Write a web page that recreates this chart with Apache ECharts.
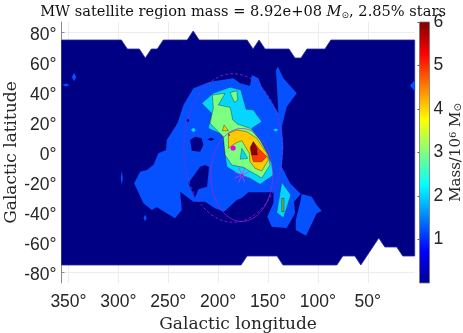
<!DOCTYPE html>
<html><head><meta charset="utf-8">
<style>html,body{margin:0;padding:0;background:#fff}#c{width:463px;height:333px}</style>
<script src="https://cdn.jsdelivr.net/npm/echarts@6/dist/echarts.min.js"></script>
</head><body><div id="c"></div>
<script>
var lonTicks=[50,100,150,200,250,300,350];
var latTicks=[-80,-60,-40,-20,0,20,40,60,80];
var colorTicks=[1,2,3,4,5,6];
var jetStops=['#00008f','#0000ff','#00ffff','#ffff00','#ff0000','#800000'];
var jetPos=[0,0.125,0.375,0.625,0.875,1];

var base=[[357,75],[297,75],[291,69],[279,69],[273,63],[267,69],[261,69],[255,75],[231,75],[225,81],[219,75],[171,75],[165,69],[159,75],[153,69],[129,69],[123,63],[117,63],[111,69],[93,69],[87,75],[3,75],[3,-69],[15,-69],[21,-63],[33,-63],[39,-57],[57,-75],[63,-69],[75,-69],[81,-75],[135,-75],[141,-69],[171,-69],[177,-75],[357,-75]];
var blueMain=[[284.2,-20.5],[278.2,-12.8],[271.5,-11.7],[264.9,-8.3],[259.9,-0.5],[252.2,1.7],[251.5,8.3],[240.8,19.5],[234.8,31.7],[224.8,42.8],[208.1,47.2],[184.7,49.5],[178,46.1],[168,44.3],[166.3,51.7],[159.7,49.5],[156.3,43.9],[149.7,37.2],[139.6,26.1],[142,55],[140,57.2],[134.6,49.5],[121.2,39.5],[131.2,30.5],[136.2,17.2],[134.6,3.9],[136.2,-9.5],[127.9,-20.5],[117.2,-27.7],[123.9,-32.8],[122.9,-40.5],[131.2,-50.3],[146.3,-49.5],[150.7,-42.8],[144.6,-33.7],[144.6,-26.1],[151.3,-26.5],[169.7,-26.5],[176.3,-30.3],[181.3,-31.7],[194,-39.5],[203.1,-37.2],[213.1,-32.8],[224.8,-32.8],[238.1,-26.1],[236.4,-38.3],[243.2,-43.9],[261.5,-36.5],[266.5,-38.3],[274.9,-33.9]];
var blueRight=[[116.2,-27.7],[106.2,-29.5],[101.2,-35],[96.2,-39],[101.2,-40.5],[111.9,-55.5],[122.2,-51.7],[122.2,-45],[117.9,-33.7]];
var blueEdge=[[7.7,44.5],[3,48.3],[3,41]];
var blueSpotA=[[344.4,53],[346.6,50.3],[344.4,47.5],[342.2,50.3]];
var blueSpotB=[[352.4,46],[356,45],[352.4,44],[348.8,45]];
var blueSpotC=[[296.6,-12],[297.6,-17],[296.6,-22],[295.6,-17]];
var blueSpotD=[[273.2,-41.5],[274.8,-43.7],[273.2,-46],[271.6,-43.7]];
var holeA=[[229.8,-20.5],[218.1,-9.5],[213.1,-8.3],[209.1,-9.7],[211.1,-22.8],[219.8,-24.5],[223.1,-30.3]];
var holeB=[[228.1,8.3],[223.1,10.5],[216.4,9.5],[214.8,5],[218.1,0.5],[226.4,1.2]];
var holeC=[[230.4,22.5],[232,21.2],[230.4,20],[228.8,21.2]];
var holeD=[[207.1,9.8],[211,8.8],[207.1,7.8],[203.2,8.8]];
var cyanMain=[[216.4,32.8],[204.8,39.5],[188,43.5],[177.3,41.7],[172,28.8],[164.7,28.3],[156.3,20.5],[166.3,16.1],[154.7,3.9],[146.3,-7.2],[144.6,-15],[158,-21.2],[168,-17.2],[180.7,-13.9],[191.3,-9.5],[193,-0.5],[194.8,11.7],[209.8,16.1],[206.4,26.1]];
var cyanRight=[[136.2,-19.9],[127.2,-28.3],[134.6,-43.5],[141.2,-40.1],[139.6,-33.9]];
var cyanDotA=[[224.8,16.5],[227.3,15],[224.8,13.5],[222.3,15]];
var cyanDotB=[[142.3,16],[144.8,15],[142.3,14],[139.8,15]];
var greenMain=[[205.8,38.3],[193,39.5],[199.8,31.7],[188,30.1],[185.3,21.7],[180.7,19],[168,16.1],[158,8.3],[149.7,-1.7],[148,-8.3],[156.3,-17],[161.3,-15],[174.7,-9.9],[186.3,-8.3],[193,-1.7],[194.8,10.5],[208.1,19.5],[204.8,29.7]];
var greenIsle=[[188,39.9],[181.3,41.2],[180.3,35],[183.7,33.5]];
var greenRight=[[136.2,-30.5],[134,-30.5],[134,-39.5],[136.2,-39.5]];
var yellowMain=[[189.7,12.8],[181.3,15],[171.3,13.9],[161.3,9.5],[151.3,-0.5],[149.7,-5],[156.3,-12.3],[163,-10.5],[168,-6.1],[168.7,-0.5],[176.3,7.9],[183,6.1],[189.7,2.8],[189.7,8.3]];
var yellowTri=[[194,18.3],[189.7,14.5],[195.7,14.5]];
var cyanTri=[[176.3,2.8],[170.3,-3.9],[178,-4.5]];
var redMain=[[164.7,7.2],[159.7,2.8],[151.3,-2.8],[156.3,-6.1],[164.7,-6.1],[168,2.8]];
var darkRed=[[164.7,7.2],[161.3,2.8],[160.7,-1.7],[166.3,-1.7],[167.3,3.9]];
var bigCircle=[185,3,49.5];
var smallCircle=[176.3,-15,31];

var C={base:'#000084',blue:'#0550ff',cyan:'#05d5ff',green:'#7dff80',yellow:'#ffc800',red:'#ff3c00',dark:'#8c0000'};
var line='rgba(10,10,10,0.6)';
function poly(pts,fill,stroke,w){
  return {type:'custom',coordinateSystem:'cartesian2d',xAxisIndex:0,yAxisIndex:0,silent:true,animation:false,z:3,
    data:pts,
    renderItem:function(p,api){
      if(p.dataIndex!==0)return null;
      return {type:'polygon',shape:{points:pts.map(function(q){return api.coord(q);})},
        style:{fill:fill,stroke:stroke||null,lineWidth:w||0}};
    }};
}
function circle(c,col,dash,w){
  return {type:'custom',coordinateSystem:'cartesian2d',xAxisIndex:0,yAxisIndex:0,silent:true,animation:false,z:4,
    data:[c],
    renderItem:function(p,api){
      var pts=[];
      for(var i=0;i<=120;i++){var t=i/120*2*Math.PI;pts.push(api.coord([c[0]+c[2]*Math.cos(t),c[1]+c[2]*Math.sin(t)]));}
      return {type:'polyline',shape:{points:pts},style:{fill:null,stroke:col,lineWidth:w,lineDash:dash}};
    }};
}
var series=[
  poly(base,C.base,'#2a2aa8',0.8),
  poly(blueMain,C.blue),poly(blueRight,C.blue),poly(blueEdge,C.blue),poly(blueSpotA,C.blue),poly(blueSpotB,C.blue),poly(blueSpotC,C.blue),poly(blueSpotD,C.blue),
  poly(holeA,C.base),poly(holeB,C.base),poly(holeC,C.base),poly(holeD,C.base),
  poly(cyanMain,C.cyan,line,0.4),poly(cyanRight,C.cyan,line,0.4),poly(cyanDotA,C.cyan),poly(cyanDotB,C.cyan),
  poly(greenMain,C.green,line,0.6),poly(greenIsle,C.green,line,0.6),poly(greenRight,'#6fb050',line,0.6),
  poly(yellowMain,C.yellow,line,0.6),poly(yellowTri,C.yellow,line,0.6),poly(cyanTri,C.cyan,line,0.5),
  poly(redMain,C.red,line,0.6),poly(darkRed,C.dark,line,0.5),
  circle(bigCircle,'#a020c8',[3,2],0.8),
  circle(smallCircle,'#b020d8',null,0.7),
  {type:'custom',coordinateSystem:'cartesian2d',xAxisIndex:0,yAxisIndex:0,silent:true,animation:false,z:5,
   data:[[bigCircle[0],bigCircle[1]]],
   renderItem:function(p,api){var c=api.coord([api.value(0),api.value(1)]);
     return {type:'circle',shape:{cx:c[0],cy:c[1],r:2.6},style:{fill:'#f000e0'}};}},
  {type:'custom',coordinateSystem:'cartesian2d',xAxisIndex:0,yAxisIndex:0,silent:true,animation:false,z:5,
   data:[[smallCircle[0],smallCircle[1]]],
   renderItem:function(p,api){var c=api.coord([api.value(0),api.value(1)]);var kids=[];
     for(var i=0;i<4;i++){var a=i*Math.PI/4+Math.PI/8,dx=8*Math.cos(a),dy=8*Math.sin(a);
       kids.push({type:'line',shape:{x1:c[0]-dx,y1:c[1]-dy,x2:c[0]+dx,y2:c[1]+dy},style:{stroke:'#c040e8',lineWidth:0.8}});}
     kids.push({type:'circle',shape:{cx:c[0],cy:c[1],r:1.2},style:{fill:'#a020d0'}});
     return {type:'group',children:kids};}},
  {type:'custom',coordinateSystem:'cartesian2d',xAxisIndex:0,yAxisIndex:0,silent:true,animation:false,z:5,
   data:[[189,11.7]],
   renderItem:function(p,api){var c=api.coord([api.value(0),api.value(1)]);
     return {type:'circle',shape:{cx:c[0],cy:c[1],r:0.7},style:{fill:'#201000'}};}},
  {type:'custom',coordinateSystem:'cartesian2d',xAxisIndex:1,yAxisIndex:1,silent:true,animation:false,z:3,
   data:[[0,0,6]],
   renderItem:function(p,api){
     var a=api.coord([0,api.value(2)]),b=api.coord([1,api.value(1)]);
     var stops=jetPos.map(function(v,i){return {offset:1-v,color:jetStops[i]};}).reverse();
     return {type:'rect',shape:{x:a[0],y:a[1],width:b[0]-a[0],height:b[1]-a[1]},
       style:{fill:new echarts.graphic.LinearGradient(0,0,0,1,stops),stroke:'#777',lineWidth:0.8}};
   }}
];
var sf='"DejaVu Serif",serif', hf='"Liberation Sans",sans-serif';
var chart=echarts.init(document.getElementById('c'),null,{renderer:'canvas'});
chart.setOption({
  animation:false,backgroundColor:'#fff',
  title:{text:'MW satellite region mass = 8.92e+08 {i|M}{s|⊙}, 2.85% stars',left:238,top:0,textAlign:'center',
    textStyle:{fontFamily:sf,fontSize:14.6,fontWeight:'normal',color:'#111',
      rich:{i:{fontFamily:sf,fontStyle:'italic',fontSize:14.6,color:'#111'},s:{fontFamily:'"DejaVu Sans"',fontSize:9,color:'#111',verticalAlign:'bottom',padding:[5,0,0,0]}}}},
  grid:[{left:61.5,top:22,width:353.2,height:261,outerBoundsMode:'none'},{left:419.5,top:22,width:10,height:261,outerBoundsMode:'none'}],
  xAxis:[
    {type:'value',gridIndex:0,min:3,max:357,inverse:true,
     name:'Galactic longitude',nameLocation:'middle',nameGap:31,nameTextStyle:{fontFamily:sf,fontSize:17,color:'#262626'},
     axisLine:{show:true,lineStyle:{color:'#8a8a8a',width:1}},
     axisTick:{show:true,inside:true,length:3,customValues:lonTicks,lineStyle:{color:'#8a8a8a'}},
     axisLabel:{customValues:lonTicks,formatter:'{value}°',fontFamily:hf,fontSize:17.5,color:'#262626',margin:10},
     splitLine:{show:true,lineStyle:{color:'#ececec',width:1}}},
    {type:'value',gridIndex:1,min:0,max:1,show:false}
  ],
  yAxis:[
    {type:'value',gridIndex:0,min:-87,max:87,
     name:'Galactic latitude',nameLocation:'middle',nameGap:41,nameMoveOverlap:false,nameTextStyle:{fontFamily:sf,fontSize:17,color:'#262626'},
     axisLine:{show:true,lineStyle:{color:'#8a8a8a',width:1}},
     axisTick:{show:true,inside:true,length:3,customValues:latTicks,lineStyle:{color:'#8a8a8a'}},
     axisLabel:{customValues:latTicks,formatter:'{value}°',fontFamily:hf,fontSize:17.5,color:'#262626',margin:5,verticalAlign:'top',lineHeight:6},
     splitLine:{show:true,lineStyle:{color:'#ececec',width:1}}},
    {type:'value',gridIndex:1,min:0,max:6,position:'right',
     name:'Mass/10{u|6} M{d|⊙}',nameLocation:'middle',nameGap:19,nameRotate:90,
     nameTextStyle:{fontFamily:sf,fontSize:15,color:'#262626',
       rich:{u:{fontFamily:sf,fontSize:10,color:'#262626',verticalAlign:'top'},d:{fontFamily:'"DejaVu Sans"',fontSize:10,color:'#262626',verticalAlign:'bottom'}}},
     axisLine:{show:false},
     axisTick:{show:true,inside:true,length:2,customValues:colorTicks,lineStyle:{color:'#555'}},
     axisLabel:{customValues:colorTicks,fontFamily:hf,fontSize:17.5,color:'#262626',margin:4},
     splitLine:{show:false}}
  ],
  series:series
});
</script></body></html>
